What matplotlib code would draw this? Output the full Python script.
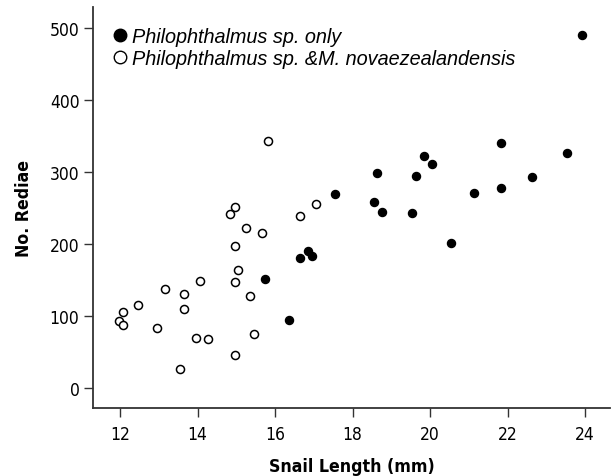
import matplotlib.pyplot as plt
from matplotlib.lines import Line2D

# Philophthalmus sp. only
only_len = [23.93, 21.84, 23.53, 19.84, 20.04, 18.64, 19.64, 22.62, 21.14, 21.84,
            17.55, 18.55, 18.75, 19.54, 20.53, 16.64, 16.85, 16.95, 16.36, 15.75]
only_red = [489, 340, 326, 322, 311, 298, 295, 293, 271, 278,
            269, 259, 245, 243, 202, 181, 190, 184, 95, 151]

# Philophthalmus sp. & M. novaezealandensis
mixed_len = [11.97, 12.07, 12.07, 12.46, 12.96, 13.16, 13.66, 13.66, 13.56, 13.96,
             14.26, 14.06, 14.96, 14.85, 15.26, 15.66, 14.96, 15.05, 14.96, 15.35,
             15.45, 14.96, 16.64, 17.06, 15.83]
mixed_red = [94, 106, 88, 115, 84, 138, 131, 110, 27, 70,
             69, 149, 251, 241, 222, 216, 198, 164, 148, 128,
             76, 47, 239, 255, 343]

xticks = [12, 14, 16, 18, 20, 22, 24]
yticks = [0, 100, 200, 300, 400, 500]

plt.rcParams['font.family'] = ['DejaVu Sans']

fig = plt.figure(figsize=(6.15, 4.77), dpi=100)
ax = fig.add_axes([0.1517, 0.1426, 0.8402, 0.84])

ax.plot(only_len, only_red, 'o', color='black', markersize=5.8, linestyle='none')
ax.plot(mixed_len, mixed_red, 'o', markerfacecolor='white', markeredgecolor='black',
        markeredgewidth=1.1, markersize=5.8, linestyle='none')

ax.set_xlim(11.311, 24.645)
ax.set_ylim(-27, 528)
ax.set_xticks(xticks)
ax.set_yticks(yticks)
ax.tick_params(direction='out', length=6.5, width=1, color='#333333', pad=3.5)
ax.tick_params(axis='x', pad=5.5)
for lab in ax.get_xticklabels() + ax.get_yticklabels():
    lab.set_fontfamily('DejaVu Sans')
    lab.set_fontstretch('condensed')
    lab.set_fontsize(12.5)
for s in ['top', 'right']:
    ax.spines[s].set_visible(False)
for s in ['left', 'bottom']:
    ax.spines[s].set_color('#333333')
    ax.spines[s].set_linewidth(1.3)

ax.set_xlabel('Snail Length (mm)', fontsize=12.7, fontweight='bold',
              fontstretch='condensed', labelpad=10)
ax.set_ylabel('No. Rediae', fontsize=12.7, fontweight='bold',
              fontstretch='condensed', labelpad=12)

handles = [
    Line2D([], [], marker='o', color='black', linestyle='none', markersize=9),
    Line2D([], [], marker='o', markerfacecolor='white', markeredgecolor='black',
           markeredgewidth=1.0, linestyle='none', markersize=9),
]
labels = ['Philophthalmus sp. only', 'Philophthalmus sp. &M. novaezealandensis']
leg = ax.legend(handles, labels, loc='upper left', bbox_to_anchor=(-0.006, 1.0),
                frameon=False, handletextpad=0.12, handlelength=1.0,
                labelspacing=0.15, borderaxespad=0.6,
                prop={'family': 'Liberation Sans', 'style': 'italic', 'size': 14.3})

fig.savefig('out.png', dpi=100)
